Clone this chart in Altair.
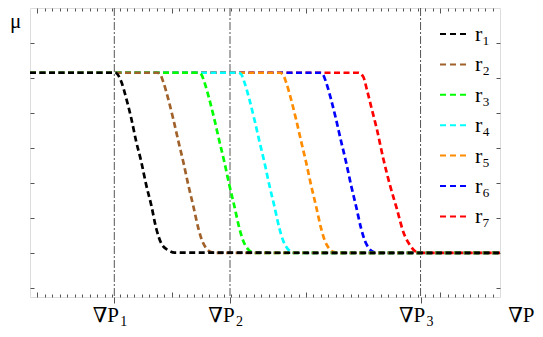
import altair as alt
import pandas as pd

SERIES = ["r₁", "r₂", "r₃", "r₄", "r₅", "r₆", "r₇"]
COLORS = ["#000000", "#a0612b", "#00ff00", "#00ffff", "#ff8c00", "#0000ff", "#ff0000"]

R1_X = [0, 11.43, 12.24, 12.91, 13.58, 14.25, 14.92, 15.59, 16.26, 16.93, 17.60, 18.50, 19.40, 63]
R1_MU = [6.15, 6.15, 5.89, 5.41, 4.84, 4.17, 3.60, 2.93, 2.36, 1.69, 1.27, 1.08, 1.01, 1.00]

R2_X = [0, 17.06, 17.46, 17.86, 18.53, 19.20, 19.88, 20.55, 21.22, 21.89, 22.56, 23.09, 23.63, 24.16, 24.83, 63]
R3_X = [0, 22.56, 22.96, 23.36, 24.03, 24.70, 25.38, 26.05, 26.72, 27.39, 28.06, 28.59, 29.13, 29.66, 30.33, 63]
R4_X = [0, 27.92, 28.32, 28.72, 29.39, 30.06, 30.74, 31.41, 32.08, 32.75, 33.42, 33.95, 34.49, 35.02, 35.69, 63]
R5_X = [0, 33.51, 33.91, 34.31, 34.98, 35.65, 36.33, 37.00, 37.67, 38.34, 39.01, 39.54, 40.08, 40.61, 41.28, 63]
R6_X = [0, 38.87, 39.27, 39.67, 40.34, 41.01, 41.69, 42.36, 43.03, 43.70, 44.37, 44.90, 45.44, 45.97, 46.64, 63]
MID_MU = [6.15, 6.15, 6.10, 5.89, 5.40, 4.83, 4.20, 3.60, 2.94, 2.34, 1.71, 1.34, 1.13, 1.03, 1.00, 1.00]

R7_X = [0, 44.01, 44.68, 45.13, 45.80, 46.48, 47.36, 48.26, 49.16, 50.04, 50.94, 51.61, 52.28, 63]
R7_MU = [6.15, 6.15, 6.03, 5.69, 5.12, 4.55, 3.69, 2.93, 2.27, 1.60, 1.22, 1.05, 1.00, 1.00]

P_VALUES = [11.30, 26.81, 52.35]
P_MAIN = "∇P"
P_SUBS = ["1", "2", "3"]
Y_TICKS = [0, 1, 2, 3, 4, 5, 6, 7]
X_MINOR = list(range(1, 63))

SERIF = "Liberation Serif, DejaVu Serif, serif"

series_data = [
    ("r₁", R1_X, R1_MU), ("r₂", R2_X, MID_MU), ("r₃", R3_X, MID_MU),
    ("r₄", R4_X, MID_MU), ("r₅", R5_X, MID_MU), ("r₆", R6_X, MID_MU),
    ("r₇", R7_X, R7_MU),
]
rows = []
for name, xs, ms in reversed(series_data):  # r7 drawn first, r1 on top
    for xv, mv in zip(xs, ms):
        rows.append({"series": name, "x": xv, "mu": mv})
curve_df = pd.DataFrame(rows)
p_df = pd.DataFrame({"x": P_VALUES})

xscale = alt.Scale(domain=[0, 63], nice=False, zero=False)
yscale = alt.Scale(domain=[-0.26, 8.0], nice=False, zero=False)

sub_expr = " : ".join(
    f"datum.value < {(P_VALUES[i] + P_VALUES[i + 1]) / 2} ? '{P_SUBS[i]}'" for i in range(len(P_VALUES) - 1)
) + f" : '{P_SUBS[-1]}'"

tick_cond = {"condition": {"test": "datum.value % 18 == 1", "value": 5}, "value": 3}

rules = alt.Chart(p_df).mark_rule(color="#555555", strokeWidth=1, strokeDash=[8, 2, 2, 2]).encode(
    x=alt.X("x:Q", scale=xscale, axis=alt.Axis(
        orient="bottom", values=P_VALUES, labelExpr=f"'{P_MAIN}'", tickSize=6, tickColor="#555555",
        tickWidth=1, domain=False, grid=False, labelFont=SERIF, labelFontSize=21, labelColor="black",
        labelBaseline="alphabetic", labelPadding=18, labelOffset=-9,
        title="∇P", titleX=504, titleY=24, titleFont=SERIF, titleFontSize=21, titleFontWeight="normal",
        titleBaseline="alphabetic", titleAlign="right", titleColor="black"))
)

curves = alt.Chart(curve_df).mark_line(strokeWidth=2.7, strokeDash=[6, 3.5], interpolate="monotone").encode(
    x=alt.X("x:Q", scale=xscale, axis=alt.Axis(
        orient="top", offset=-289, values=X_MINOR, tickSize=tick_cond, tickColor="#555555",
        tickWidth=1, labels=False, domain=False, grid=False, title=None)),
    y=alt.Y("mu:Q", scale=yscale, axis=alt.Axis(
        orient="left", offset=-470, values=Y_TICKS, tickSize=4, tickColor="#555555",
        tickWidth=1, labels=False, domain=False, grid=False, title=None)),
    color=alt.Color("series:N", scale=alt.Scale(domain=SERIES, range=COLORS), legend=alt.Legend(
        orient="none", legendX=409, legendY=10, title=None, symbolType="stroke", symbolSize=900,
        symbolStrokeWidth=2, symbolDash=[6, 4], labelFont=SERIF, labelFontSize=22, labelColor="black",
        rowPadding=3.4, padding=0, labelOffset=4)),
)

ghost = alt.Chart(curve_df).mark_point(opacity=0).encode(
    x=alt.X("x:Q", scale=xscale, axis=alt.Axis(
        orient="bottom", offset=-289, values=X_MINOR, tickSize=tick_cond, tickColor="#555555",
        tickWidth=1, labels=False, domain=False, grid=False, title=None)),
    y=alt.Y("mu:Q", scale=yscale, axis=alt.Axis(
        orient="right", offset=-470, values=Y_TICKS, tickSize=4, tickColor="#555555",
        tickWidth=1, labels=False, domain=False, grid=False,
        title="μ", titleAngle=0, titleX=-15, titleY=19, titleAlign="center",
        titleBaseline="alphabetic", titleFont=SERIF, titleFontSize=21, titleFontWeight="normal",
        titleColor="black")),
)

subs = alt.Chart(p_df).mark_point(opacity=0).encode(
    x=alt.X("x:Q", scale=xscale, axis=alt.Axis(
        orient="bottom", values=P_VALUES, labelExpr=sub_expr, ticks=False, tickSize=0,
        domain=False, grid=False, labelFont=SERIF, labelFontSize=14, labelColor="black",
        labelBaseline="alphabetic", labelPadding=28, labelOffset=9, title=None)),
)

chart = alt.layer(rules, curves, ghost, subs).resolve_axis(x="independent", y="independent").properties(
    width=470, height=289,
    autosize=alt.AutoSizeParams(type="none"),
    padding={"left": 22, "top": 0, "right": 35, "bottom": 32},
).configure_view(stroke="#222222", strokeWidth=1.5).configure(background="white")

chart.save("out.html", embed_options={"renderer": "svg", "actions": False})
